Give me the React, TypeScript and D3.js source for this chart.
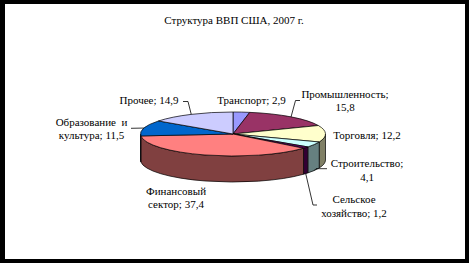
import React from "react";
import * as d3 from "d3";

const title = "Структура ВВП США, 2007 г.";
const categories = [
  "Транспорт",
  "Промышленность",
  "Торговля",
  "Строительство",
  "Сельское хозяйство",
  "Финансовый сектор",
  "Образование  и культура",
  "Прочее",
];
const values = [2.9, 15.8, 12.2, 4.1, 1.2, 37.4, 11.5, 14.9];
const valueLabels = ["2,9", "15,8", "12,2", "4,1", "1,2", "37,4", "11,5", "14,9"];
const topColors = ["#9999FF", "#993366", "#FFFFCC", "#CCFFFF", "#660066", "#FF8080", "#0066CC", "#CCCCFF"];
const sideColors = ["#4C4C80", "#4C1933", "#808066", "#668080", "#330033", "#804040", "#003366", "#666680"];

type LabelLayout = {
  lines: string[];
  x: number;
  y: number;
  leader?: { elbow: [number, number]; end: [number, number]; bottom?: boolean };
};
const labelLayout: LabelLayout[] = [
  { lines: ["Транспорт; 2,9"], x: 251.5, y: 104 },
  { lines: ["Промышленность;", "15,8"], x: 345, y: 97.5, leader: { elbow: [295.5, 100.5], end: [300, 100.5] } },
  { lines: ["Торговля; 12,2"], x: 367, y: 139 },
  { lines: ["Строительство;", "4,1"], x: 367, y: 167, leader: { elbow: [316, 168.7], end: [327, 168.7], bottom: true } },
  { lines: ["Сельское", "хозяйство; 1,2"], x: 354, y: 203, leader: { elbow: [313, 205], end: [317, 205], bottom: true } },
  { lines: ["Финансовый", "сектор; 37,4"], x: 176, y: 194.5 },
  { lines: ["Образование  и", "культура; 11,5"], x: 91.5, y: 125.5, leader: { elbow: [131, 128.3], end: [131, 128.3] } },
  { lines: ["Прочее; 14,9"], x: 149, y: 104, leader: { elbow: [188, 101.5], end: [183, 101.5] } },
];

const W = 469;
const H = 263;
const cx = 233;
const cy = 134;
const rx = 92.5;
const ry = 22;
const depth = 26;

const pt = (a: number, dy = 0): [number, number] => [cx + rx * Math.sin(a), cy - ry * Math.cos(a) + dy];

export default function App() {
  const data = values.map((v, i) => ({ v, i }));
  const arcs = d3
    .pie<{ v: number; i: number }>()
    .sort(null)
    .value((d) => d.v)(data);

  const f = (n: number) => n.toFixed(2);

  const walls = arcs
    .map((a) => {
      const s = Math.max(a.startAngle, Math.PI / 2);
      const e = Math.min(a.endAngle, (3 * Math.PI) / 2);
      if (e <= s) return null;
      const p1 = pt(s);
      const p2 = pt(e);
      const p3 = pt(e, depth);
      const p4 = pt(s, depth);
      const d = `M${f(p1[0])},${f(p1[1])} A${rx},${ry} 0 0 1 ${f(p2[0])},${f(p2[1])} L${f(p3[0])},${f(p3[1])} A${rx},${ry} 0 0 0 ${f(p4[0])},${f(p4[1])} Z`;
      return { d, i: a.data.i };
    })
    .filter(Boolean) as { d: string; i: number }[];

  const tops = arcs.map((a) => {
    const p1 = pt(a.startAngle);
    const p2 = pt(a.endAngle);
    const large = a.endAngle - a.startAngle > Math.PI ? 1 : 0;
    const d = `M${cx},${cy} L${f(p1[0])},${f(p1[1])} A${rx},${ry} 0 ${large} 1 ${f(p2[0])},${f(p2[1])} Z`;
    return { d, i: a.data.i };
  });

  const leaders = arcs.map((a) => {
    const lay = labelLayout[a.data.i];
    if (!lay.leader) return null;
    const mid = (a.startAngle + a.endAngle) / 2;
    const start = pt(mid, lay.leader.bottom ? depth : 0);
    const pts = [start, lay.leader.elbow, lay.leader.end];
    return { d: d3.line()(pts as [number, number][]) as string, i: a.data.i };
  });

  const font = "Liberation Serif";

  return (
    <svg width={W} height={H} style={{ position: "absolute", left: 0, top: 0 }}>
      <rect x={0} y={0} width={W} height={H} fill="#000" />
      <rect x={5} y={4} width={460} height={255} fill="#fff" />
      <text x={234} y={24} textAnchor="middle" fontFamily={font} fontSize={11} fill="#000">
        {title}
      </text>
      <g stroke="#000" strokeWidth={0.7} strokeLinejoin="round">
        {walls.map((w) => (
          <path key={"w" + w.i} d={w.d} fill={sideColors[w.i]} />
        ))}
        {tops.map((t) => (
          <path key={"t" + t.i} d={t.d} fill={topColors[t.i]} />
        ))}
      </g>
      <g stroke="#000" strokeWidth={0.8} fill="none">
        {leaders.map((l) => (l ? <path key={"l" + l.i} d={l.d} /> : null))}
      </g>
      {labelLayout.map((lay, i) => (
        <text
          key={"lab" + i}
          x={lay.x}
          y={lay.y}
          fontFamily={font}
          fontSize={11}
          fill="#000"
          textAnchor="middle"
          xmlSpace="preserve"
          style={{ whiteSpace: "pre", fontFamily: font }}
        >
          {lay.lines.map((ln, j) => (
            <tspan key={j} x={lay.x} y={lay.y + j * 13.5}>
              {ln}
            </tspan>
          ))}
        </text>
      ))}
    </svg>
  );
}

export const _unused = { categories, valueLabels };
